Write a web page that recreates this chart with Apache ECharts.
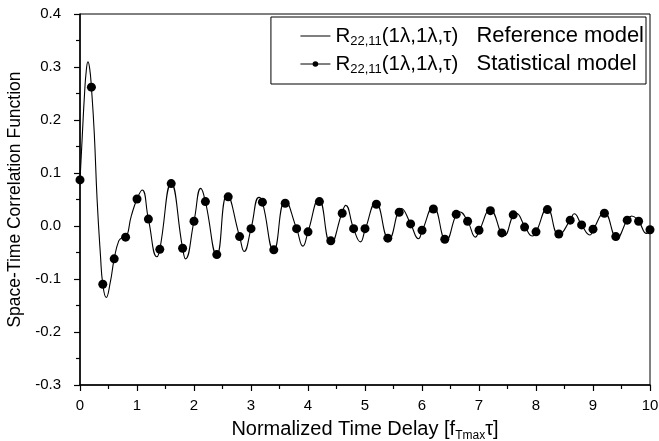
<!DOCTYPE html>
<html><head><meta charset="utf-8">
<script src="https://cdn.jsdelivr.net/npm/echarts@6/dist/echarts.min.js"></script>
<style>html,body{margin:0;padding:0;background:#fff}#c{width:659px;height:441px}</style>
</head><body><div id="c"></div>
<script>
// Reference model curve (x, y)
const refX = [0.00,0.04,0.08,0.11,0.14,0.17,0.20,0.25,0.30,0.36,0.40,0.46,0.53,0.60,0.68,0.74,0.80,0.90,1.00,1.09,1.20,1.35,1.40,1.60,1.80,1.85,2.00,2.12,2.20,2.40,2.58,2.80,2.88,3.00,3.14,3.20,3.40,3.60,3.80,3.91,4.00,4.19,4.40,4.60,4.66,4.80,4.92,5.00,5.19,5.42,5.64,5.80,5.94,6.00,6.20,6.42,6.60,6.65,6.80,6.94,7.00,7.20,7.44,7.60,7.65,7.80,7.94,8.00,8.20,8.40,8.60,8.67,8.80,8.95,9.00,9.20,9.42,9.60,9.68,9.80,9.94,10.00];
const refY = [0.087,0.170,0.250,0.293,0.310,0.297,0.262,0.176,0.050,-0.057,-0.110,-0.135,-0.107,-0.062,-0.028,-0.022,-0.021,0.019,0.051,0.068,0.013,-0.058,-0.044,0.080,-0.042,-0.062,0.009,0.071,0.046,-0.055,0.059,-0.020,-0.048,-0.005,0.054,0.045,-0.046,0.048,-0.005,-0.038,-0.011,0.051,-0.034,0.026,0.039,-0.005,-0.030,-0.008,0.044,-0.025,0.033,0.004,-0.024,-0.010,0.036,-0.027,0.022,0.027,0.009,-0.021,-0.010,0.030,-0.018,0.021,0.024,0.000,-0.019,-0.012,0.033,-0.017,0.011,0.023,0.002,-0.017,-0.008,0.025,-0.022,0.011,0.019,0.009,-0.014,-0.007];
// Statistical model points, every 0.2
const statX = [0,0.2,0.4,0.6,0.8,1.0,1.2,1.4,1.6,1.8,2.0,2.2,2.4,2.6,2.8,3.0,3.2,3.4,3.6,3.8,4.0,4.2,4.4,4.6,4.8,5.0,5.2,5.4,5.6,5.8,6.0,6.2,6.4,6.6,6.8,7.0,7.2,7.4,7.6,7.8,8.0,8.2,8.4,8.6,8.8,9.0,9.2,9.4,9.6,9.8,10.0];
const statY = [0.087,0.262,-0.110,-0.062,-0.021,0.051,0.013,-0.044,0.080,-0.042,0.009,0.046,-0.054,0.055,-0.020,-0.005,0.045,-0.045,0.043,-0.005,-0.011,0.046,-0.028,0.024,-0.005,-0.005,0.041,-0.023,0.026,0.004,-0.008,0.032,-0.025,0.022,0.009,-0.008,0.029,-0.013,0.021,-0.002,-0.011,0.031,-0.015,0.011,0.002,-0.006,0.024,-0.020,0.011,0.009,-0.007];
const legendNames = ['Reference model','Statistical model'];

const F = 'Arial, "Liberation Sans", sans-serif';
const chart = echarts.init(document.getElementById('c'));
const richLeg = {
  r:{fontFamily:F,fontSize:20.5,color:'#000',lineHeight:24,verticalAlign:'middle'},
  m:{fontFamily:F,fontSize:22,color:'#000',lineHeight:24,verticalAlign:'middle',padding:[0,0,0,6]},
  s:{fontFamily:F,fontSize:13,color:'#000',lineHeight:12,verticalAlign:'bottom'}
};
chart.setOption({
  animation:false,
  backgroundColor:'#fff',
  grid:{left:80,right:9,top:14,bottom:56,show:true,borderColor:'#000',borderWidth:1,containLabel:false,outerBoundsMode:'none'},
  legend:{
    orient:'vertical', right:13, top:17,
    padding:[8,2,8,29], itemGap:5, itemWidth:30, itemHeight:7,
    borderColor:'#000', borderWidth:1, backgroundColor:'#fff',
    data:[
      {name:legendNames[0], itemStyle:{opacity:0}, lineStyle:{width:1,color:'#000'}},
      {name:legendNames[1], lineStyle:{width:1,color:'#000',opacity:1}}
    ],
    formatter:function(n){return '{r|R}{s|22,11}{r|(1λ,1λ,τ)}{m|  '+n+'}';},
    textStyle:{rich:richLeg, padding:[0,0,0,0]}
  },
  xAxis:{
    type:'value', min:0, max:10, interval:1,
    name:'Normalized Time Delay [f{s|Tmax}τ]', nameLocation:'middle', nameGap:32,
    nameTextStyle:{rich:{s:{fontFamily:F,fontSize:12,color:'#000',verticalAlign:'bottom',lineHeight:12}},fontFamily:F,fontSize:20,color:'#000',lineHeight:24},
    axisLine:{onZero:false,lineStyle:{color:'#000',width:1.5}},
    axisTick:{inside:false,length:6,lineStyle:{color:'#000',width:1.2}},
    minorTick:{show:true,splitNumber:2,length:4,lineStyle:{color:'#000',width:1.2}},
    axisLabel:{fontFamily:F,fontSize:15,color:'#000',margin:13},
    splitLine:{show:false}
  },
  yAxis:{
    type:'value', min:-0.3, max:0.4, interval:0.1,
    name:'Space-Time Correlation Function', nameLocation:'middle', nameGap:54,
    nameTextStyle:{fontFamily:F,fontSize:17.5,color:'#000'},
    axisLine:{show:true,onZero:false,lineStyle:{color:'#000',width:1.5}},
    axisTick:{show:true,inside:false,length:6,lineStyle:{color:'#000',width:1.2}},
    minorTick:{show:true,splitNumber:2,length:4,lineStyle:{color:'#000',width:1.2}},
    axisLabel:{fontFamily:F,fontSize:15,color:'#000',margin:19,formatter:v=>v.toFixed(1)},
    splitLine:{show:false}
  },
  series:[
    {name:legendNames[0], type:'line', data:refX.map((x,i)=>[x,refY[i]]),
     symbol:'none', smooth:0.5,
     lineStyle:{color:'#000',width:1.1}, itemStyle:{color:'#000'}, z:2},
    {name:legendNames[1], type:'line', data:statX.map((x,i)=>[x,statY[i]]),
     symbol:'circle', symbolSize:9, showAllSymbol:true,
     lineStyle:{color:'#000',width:0,opacity:0}, itemStyle:{color:'#000'}, z:3}
  ]
});
</script></body></html>
